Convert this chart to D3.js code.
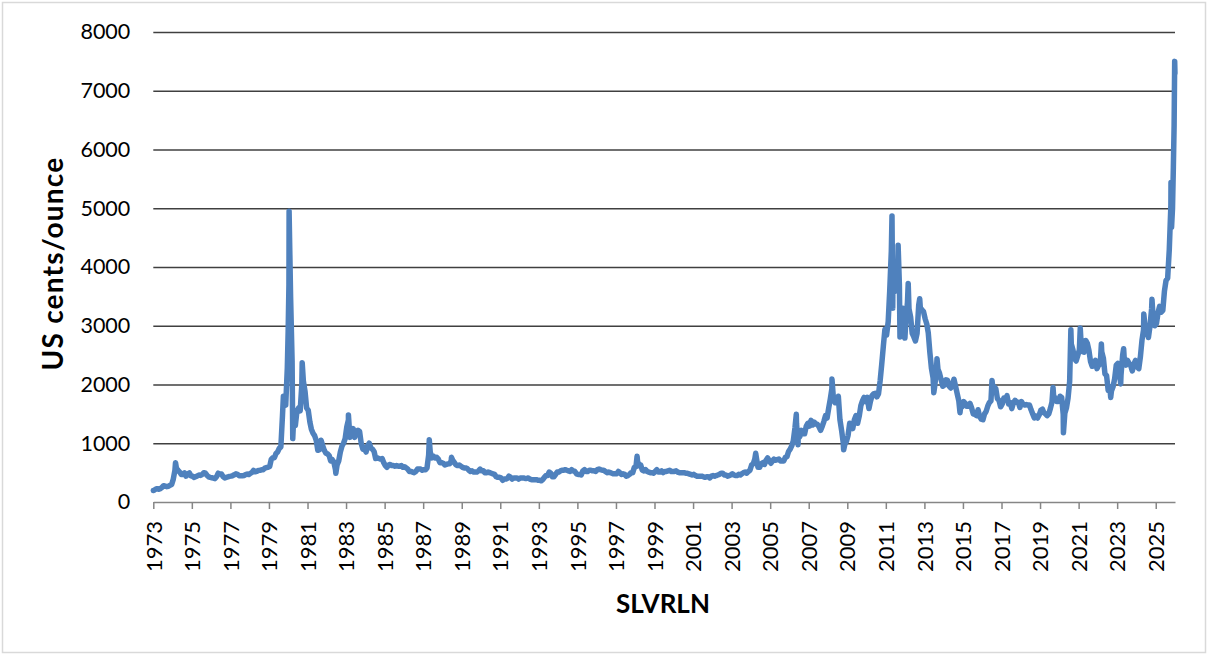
<!DOCTYPE html>
<html><head><meta charset="utf-8">
<script src="https://cdn.jsdelivr.net/npm/d3@7"></script>
<style>html,body{margin:0;padding:0;background:#fff;} svg{display:block;}</style>
</head><body><svg id="chart" width="1207" height="655"></svg>
<script>
// Monthly silver prices (US cents/ounce), one value per month
const cents1973_1979 = [
  199,219,227,216,227,249,278,270,261,267,286,298,
  390,540,575,540,510,470,470,495,440,475,495,445,
  438,418,432,444,459,453,467,499,490,455,428,419,
  413,406,398,433,490,478,478,432,410,420,428,436,
  440,450,463,480,471,448,447,446,451,466,476,467,
  488,503,537,513,520,538,539,550,550,578,587,592,
  604,729,752,755,827,853,913,938,1480,1685,1650,2280
];
const cents1980s = [
  3700,3500,2400,1450,1300,1550,1600,1550,2000,2050,1880,1600,
  1560,1360,1240,1170,1130,1050,880,890,1050,960,880,830,
  820,790,700,720,680,550,630,700,850,950,1000,1080,
  1280,1400,1100,1150,1250,1100,1200,1220,1200,1000,900,920,
  850,960,1000,920,900,860,740,750,740,730,740,670,
  620,590,630,640,620,620,610,620,610,610,620,590,
  600,580,560,520,520,510,500,520,560,560,560,540,
  550,550,580,800,850,750,780,750,760,730,670,670,
  660,630,640,650,650,700,710,670,630,620,630,610,
  590,580,580,570,540,520,530,510,510,510,530,560
];
const cents1990s = [
  530,530,500,500,510,500,490,480,470,430,420,420,
  410,370,390,390,400,440,420,390,410,410,410,390,
  410,410,410,400,400,410,390,380,380,380,380,370,
  370,360,380,420,450,450,510,490,430,430,470,510,
  510,530,540,540,550,540,530,520,550,530,520,480,
  470,470,460,530,550,520,520,540,540,530,530,520,
  550,560,550,540,540,520,500,510,500,490,480,480,
  480,520,500,470,480,470,440,450,470,500,500,590,
  600,690,620,630,540,530,550,520,510,500,500,490,
  520,550,510,510,530,500,520,520,530,540,520,520
];
const cents2000s = [
  520,530,510,500,500,500,500,490,490,480,470,460,
  470,450,440,440,440,440,430,420,430,430,410,440,
  450,440,450,460,470,490,490,460,460,440,450,460,
  480,460,450,450,470,460,480,500,510,490,520,540,
  630,650,730,750,590,590,650,670,640,710,750,700,
  660,700,730,710,720,730,700,700,700,760,770,860,
  900,960,1040,1260,1340,1080,1110,1220,1160,1160,1290,1340,
  1290,1390,1310,1360,1330,1320,1280,1220,1290,1370,1470,1430,
  1600,1760,1930,1740,1690,1710,1800,1400,1220,1020,980,1030,
  1130,1340,1310,1250,1400,1470,1340,1460,1640,1720,1780,1710
];
const cents2010s = [
  1780,1590,1710,1810,1840,1850,1790,1840,2060,2340,2650,2940,
  2840,3070,3580,4270,3700,3580,3800,4030,3700,3200,3300,3030,
  3090,3400,3290,3150,2870,2810,2740,2870,3350,3310,3270,3240,
  3120,3030,2880,2540,2270,2110,1970,2210,2260,2190,2080,1970,
  1990,2080,2070,1970,1940,1980,2090,1970,1840,1720,1600,1620,
  1710,1680,1630,1630,1680,1600,1500,1490,1470,1570,1450,1410,
  1400,1500,1540,1630,1690,1720,1990,1960,1930,1760,1730,1620,
  1670,1770,1740,1810,1670,1690,1590,1690,1730,1700,1700,1610,
  1710,1660,1650,1660,1650,1650,1570,1500,1430,1460,1430,1480,
  1560,1580,1520,1500,1470,1500,1590,1700,1810,1760,1710,1710
];
const cents2020s = [
  1800,1780,1490,1510,1600,1770,2050,2690,2590,2440,2400,2490,
  2590,2730,2560,2550,2750,2700,2580,2390,2310,2340,2410,2270,
  2330,2350,2560,2450,2180,2150,1900,1960,1890,1960,2100,2330,
  2360,2200,2160,2500,2440,2330,2410,2360,2320,2230,2350,2410,
  2300,2270,2460,2750,2930,2960,2940,2800,3000,3290,3100,3000,
  3040,3230,3330,3230,3260,3590,3770,3810,4300,5050,5000,6400
];
// Daily highs and lows that stand out from the monthly values
const extremeDates = [
  "1973-01-02","1974-02-26","1979-10-02","1979-12-31","1980-01-18","1980-03-27","1980-09-22",
  "1982-06-21","1983-02-15","1987-04-27","1988-06-20","1998-02-05","2004-04-02","2006-05-11",
  "2006-06-13","2008-03-17","2008-10-24","2011-04-28","2011-05-12","2011-08-22","2011-09-26",
  "2011-12-29","2012-02-29","2012-10-04","2013-06-28","2013-08-28","2014-11-07","2016-07-05",
  "2019-09-04","2020-03-19","2020-08-07","2021-02-01","2022-03-08","2022-09-01","2023-03-09",
  "2023-05-04","2024-05-20","2024-10-22","2025-10-17","2025-10-28","2025-12-01","2025-12-26",
  "2025-12-31"
];
const extremeCents = [
  197,670,1800,2900,4950,1080,2370,
  490,1480,1060,760,780,829,1494,
  975,2092,888,4870,3300,4370,2810,
  2790,3720,3460,1860,2440,1520,2070,
  1950,1180,2930,2960,2690,1780,2010,
  2610,3200,3450,5440,4680,5700,7500,
  7300
];
const yTicks = [0,1000,2000,3000,4000,5000,6000,7000,8000];
const yearLabels = ["1973","1975","1977","1979","1981","1983","1985","1987","1989","1991","1993","1995","1997","1999",
  "2001","2003","2005","2007","2009","2011","2013","2015","2017","2019","2021","2023","2025"];

(function(){
function monthly(startYear, arr){
  return arr.map((v,i)=>({date:new Date(Date.UTC(startYear+Math.floor(i/12), i%12, 15)), v}));
}
function parseDay(s){ const p=s.split("-").map(Number); return new Date(Date.UTC(p[0],p[1]-1,p[2])); }

const data = [].concat(
  monthly(1973,cents1973_1979), monthly(1980,cents1980s), monthly(1990,cents1990s),
  monthly(2000,cents2000s), monthly(2010,cents2010s), monthly(2020,cents2020s),
  extremeDates.map((d,i)=>({date:parseDay(d), v:extremeCents[i]}))
).sort((a,b)=>a.date-b.date);

const svg = d3.select("#chart");
const mLeft=153.3, mRight=1175, mTop=32, mBottom=502;
const font = "Lato, 'Open Sans', sans-serif";

svg.append("rect").attr("x",2.5).attr("y",2.5).attr("width",1203).attr("height",650)
  .attr("fill","#fff").attr("stroke","#d9d9d9").attr("stroke-width",1.5);

const x = d3.scaleUtc().domain([new Date(Date.UTC(1973,0,1)), new Date(Date.UTC(2026,0,1))]).range([mLeft,mRight]);
const y = d3.scaleLinear().domain([0,8000]).range([mBottom,mTop]);

const yAxis = svg.append("g").attr("transform",`translate(${mLeft},0)`)
  .call(d3.axisLeft(y).tickValues(yTicks).tickSize(-(mRight-mLeft)).tickPadding(23).tickFormat(d3.format("d")));
yAxis.select(".domain").remove();
yAxis.selectAll(".tick line").attr("stroke","#404040").attr("stroke-width",1.5)
  .filter(d=>d===0).attr("stroke","none");
yAxis.selectAll(".tick text").attr("font-family",font).attr("font-size",21.5).attr("fill","#000");

const tickDates = yearLabels.map(s=>new Date(Date.UTC(+s,0,1)));
const xAxis = svg.append("g").attr("transform",`translate(0,${mBottom})`)
  .call(d3.axisBottom(x).tickValues(tickDates).tickFormat((d,i)=>yearLabels[i]).tickSize(7).tickSizeOuter(0));
xAxis.select(".domain").attr("stroke","#868686").attr("stroke-width",1.5);
xAxis.selectAll(".tick line").attr("stroke","#868686").attr("stroke-width",1.5);
xAxis.selectAll(".tick text").attr("font-family",font).attr("font-size",22).attr("fill","#000")
  .attr("transform","rotate(-90)").attr("text-anchor","end").attr("x",-19).attr("y",0).attr("dy","0.35em");

const line = d3.line().x(d=>x(d.date)).y(d=>y(d.v));
svg.append("path").datum(data).attr("d",line).attr("fill","none")
  .attr("stroke","#4f81bd").attr("stroke-width",5.5).attr("stroke-linejoin","round").attr("stroke-linecap","round");

svg.append("text").attr("transform","translate(63,263.5) rotate(-90)").attr("text-anchor","middle")
  .attr("font-family",font).attr("font-weight","bold").attr("font-size",28).attr("letter-spacing",1.2)
  .attr("fill","#000").text("US cents/ounce");
svg.append("text").attr("x",663).attr("y",613).attr("text-anchor","middle")
  .attr("font-family",font).attr("font-weight","bold").attr("font-size",26).attr("fill","#000").text("SLVRLN");
})();
</script></body></html>
